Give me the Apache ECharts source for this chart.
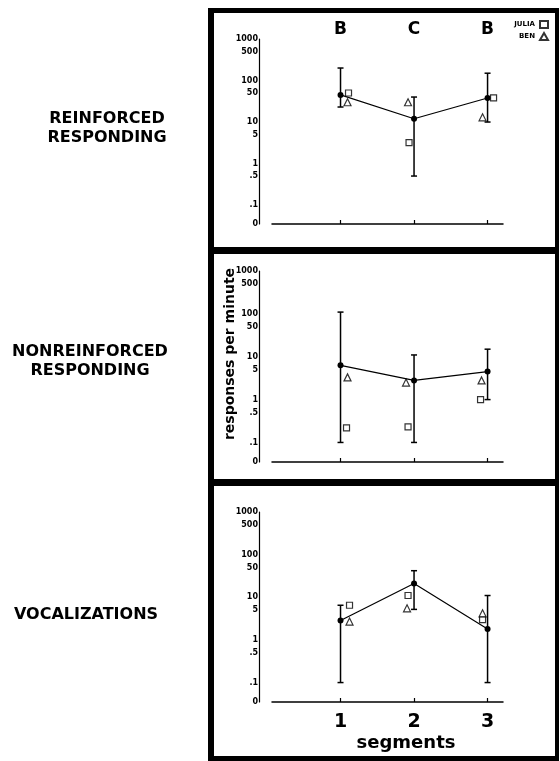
<!DOCTYPE html>
<html>
<head>
<meta charset="utf-8">
<script src="https://cdn.jsdelivr.net/npm/echarts@6/dist/echarts.min.js"></script>
<style>
  html, body { margin: 0; padding: 0; background: #fff; }
  #chart { width: 560px; height: 761px; }
</style>
</head>
<body>
<div id="chart"></div>
<script>
// segmentos e fases
const segments = [1, 2, 3];
const phases = ['B', 'C', 'B'];
const panelNames = ['REINFORCED\nRESPONDING', 'NONREINFORCED\nRESPONDING', 'VOCALIZATIONS'];

// escala do eixo y (respostas por minuto)
const tickValues = [0, 0.1, 0.5, 1, 5, 10, 50, 100, 500, 1000];
const tickLabels = ['0', '.1', '.5', '1', '5', '10', '50', '100', '500', '1000'];

// reinforced responding
const reinfMean = [45, 12, 38];
const reinfHigh = [200, 40, 150];
const reinfLow = [23, 0.5, 10];
const reinfJulia = [50, 3.2, 38];
const reinfBen = [30, 30, 13];

// nonreinforced responding
const nonMean = [6.3, 2.8, 4.5];
const nonHigh = [110, 11, 15];
const nonLow = [0.1, 0.1, 1];
const nonJulia = [0.22, 0.23, 1];
const nonBen = [3.3, 2.5, 2.8];

// vocalizations
const vocMean = [2.85, 21, 1.8];
const vocHigh = [6.5, 42, 11];
const vocLow = [0.1, 5.2, 0.1];
const vocJulia = [6.5, 11, 3.0];
const vocBen = [2.7, 5.5, 4.2];

const panels = [
  { mean: reinfMean, high: reinfHigh, low: reinfLow, julia: reinfJulia, ben: reinfBen },
  { mean: nonMean, high: nonHigh, low: nonLow, julia: nonJulia, ben: nonBen },
  { mean: vocMean, high: vocHigh, low: vocLow, julia: vocJulia, ben: vocBen }
];

// layout (px)
const gridBoxes = [
  { top: 39, height: 185 },
  { top: 271, height: 191 },
  { top: 512, height: 190 }
];
const juliaOffsets = [[8, -5, 6], [6, -6, -7], [9, -6, -5]];
const benOffsets = [[7, -6, -5], [7, -8, -6], [9, -7, -5]];
const labelPos = [[107, 128], [90, 361], [86, 615]];

const FLOOR = 0.035; // onde o "0" fica na escala log
const lg = v => Math.log10(v <= 0 ? FLOOR : v);
const tickLogs = tickValues.map(lg);

function fmtTick(v){
  let best = 0;
  tickLogs.forEach((t, i) => { if (Math.abs(t - v) < Math.abs(tickLogs[best] - v)) best = i; });
  return tickLabels[best];
}

const FONT = '"DejaVu Sans", sans-serif';
const X_MIN = 0.068, X_MAX = 3.21;

const grid = gridBoxes.map(b => ({ left: 272, width: 231, top: b.top, height: b.height }));

const xAxis = [];
const yAxis = [];
gridBoxes.forEach((b, i) => {
  xAxis.push({
    type: 'value', gridIndex: i, min: X_MIN, max: X_MAX,
    axisLine: { onZero: false, lineStyle: { color: '#000', width: 1.5 } },
    axisTick: { customValues: segments, inside: true, length: 4, lineStyle: { color: '#000', width: 1.2 } },
    axisLabel: {
      show: i === 2, customValues: segments, margin: 11,
      color: '#000', fontFamily: FONT, fontWeight: 'bold', fontSize: 19
    },
    splitLine: { show: false }
  });
  yAxis.push({
    type: 'value', gridIndex: i, min: lg(0), max: 3, offset: 13,
    axisLine: { show: true, onZero: false, lineStyle: { color: '#000', width: 1.2 } },
    axisTick: { show: false },
    axisLabel: {
      customValues: tickLogs, formatter: fmtTick, margin: 1,
      color: '#000', fontFamily: FONT, fontWeight: 'bold', fontSize: 8
    },
    splitLine: { show: false }
  });
});
// letras das fases no topo do primeiro painel
xAxis.push({
  type: 'value', gridIndex: 0, position: 'top', min: X_MIN, max: X_MAX,
  axisLine: { show: false }, axisTick: { show: false }, splitLine: { show: false },
  axisLabel: {
    customValues: segments, margin: 1,
    formatter: v => phases[Math.round(v) - 1],
    color: '#000', fontFamily: FONT, fontWeight: 'bold', fontSize: 17
  }
});

const series = [];
panels.forEach((p, i) => {
  series.push({
    type: 'custom', xAxisIndex: i, yAxisIndex: i, silent: true,
    data: segments.map((s, k) => [s, lg(p.low[k]), lg(p.high[k])]),
    renderItem: (params, api) => {
      const top = api.coord([api.value(0), api.value(2)]);
      const bot = api.coord([api.value(0), api.value(1)]);
      const st = { stroke: '#000', lineWidth: 1.5 };
      return {
        type: 'group',
        children: [
          { type: 'line', shape: { x1: top[0], y1: top[1], x2: bot[0], y2: bot[1] }, style: st },
          { type: 'line', shape: { x1: top[0] - 3, y1: top[1], x2: top[0] + 3, y2: top[1] }, style: st },
          { type: 'line', shape: { x1: bot[0] - 3, y1: bot[1], x2: bot[0] + 3, y2: bot[1] }, style: st }
        ]
      };
    }
  });
  series.push({
    type: 'line', xAxisIndex: i, yAxisIndex: i, silent: true,
    data: segments.map((s, k) => [s, lg(p.mean[k])]),
    symbol: 'circle', symbolSize: 6,
    itemStyle: { color: '#000' },
    lineStyle: { color: '#000', width: 1.2 }
  });
  series.push({
    name: 'JULIA', type: 'scatter', xAxisIndex: i, yAxisIndex: i, silent: true,
    symbol: 'rect', symbolSize: 6,
    itemStyle: { color: '#fff', borderColor: '#000', borderWidth: 1.2 },
    data: segments.map((s, k) => ({ value: [s, lg(p.julia[k])], symbolOffset: [juliaOffsets[i][k], 0] }))
  });
  series.push({
    name: 'BEN', type: 'scatter', xAxisIndex: i, yAxisIndex: i, silent: true,
    symbol: 'triangle', symbolSize: 7,
    itemStyle: { color: '#fff', borderColor: '#000', borderWidth: 1.2 },
    data: segments.map((s, k) => ({ value: [s, lg(p.ben[k])], symbolOffset: [benOffsets[i][k], 0] }))
  });
});

// moldura e textos laterais
const bars = [
  [208, 8, 351, 5], [208, 8, 6, 753], [555, 8, 4, 753],
  [208, 247, 351, 7], [208, 479, 351, 7], [208, 756, 351, 5]
];
const graphic = bars.map(b => ({
  type: 'rect', shape: { x: b[0], y: b[1], width: b[2], height: b[3] }, style: { fill: '#000' }, silent: true
}));
panelNames.forEach((t, i) => {
  graphic.push({
    type: 'text', x: labelPos[i][0], y: labelPos[i][1], silent: true,
    style: {
      text: t, fill: '#000', font: 'bold 16px ' + FONT, lineHeight: 19,
      textAlign: 'center', textVerticalAlign: 'middle'
    }
  });
});
graphic.push({
  type: 'text', x: 230, y: 354, rotation: Math.PI / 2, silent: true,
  style: { text: 'responses per minute', fill: '#000', font: 'bold 14px ' + FONT, textAlign: 'center', textVerticalAlign: 'middle' }
});
graphic.push({
  type: 'text', x: 406, y: 743, silent: true,
  style: { text: 'segments', fill: '#000', font: 'bold 18px ' + FONT, textAlign: 'center', textVerticalAlign: 'middle' }
});

const chart = echarts.init(document.getElementById('chart'));
chart.setOption({
  animation: false,
  backgroundColor: '#fff',
  grid, xAxis, yAxis, series, graphic,
  legend: {
    data: ['JULIA', 'BEN'], orient: 'vertical', right: 6, top: 15,
    align: 'right', itemWidth: 8, itemHeight: 7, itemGap: 3, selectedMode: false,
    textStyle: { color: '#000', fontFamily: FONT, fontWeight: 'bold', fontSize: 7, padding: [0, 0, 0, 0] }
  }
});
</script>
</body>
</html>
